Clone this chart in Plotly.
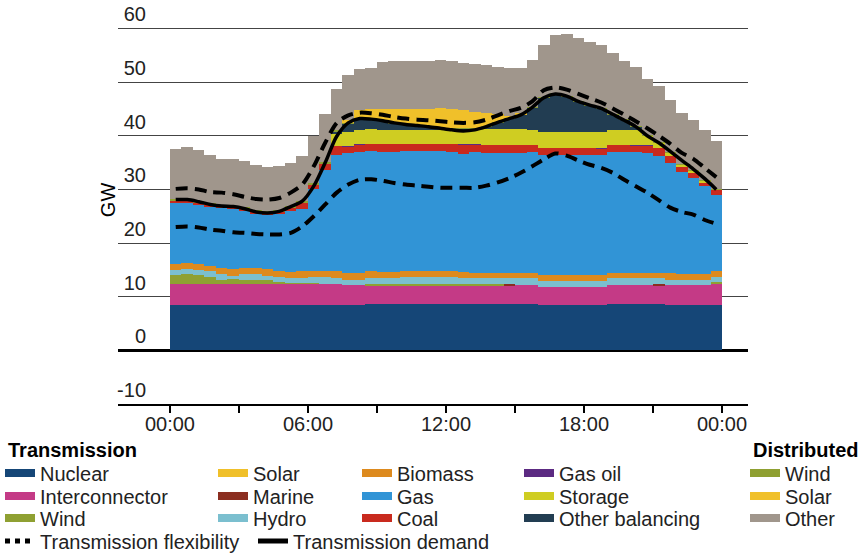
import plotly.graph_objects as go
import pandas as pd

# ---------------- data (GW, 48 half-hour settlement periods) ----------------
period_start = pd.date_range("2024-01-01 00:00", periods=48, freq="30min")
times = [t.strftime("%Y-%m-%d %H:%M") for t in period_start]

nuclear = [8.4, 8.4, 8.4, 8.4, 8.4, 8.4, 8.4, 8.4, 8.4, 8.4, 8.4, 8.4, 8.4, 8.4, 8.4, 8.4, 8.4,
           8.6, 8.6, 8.6, 8.6, 8.6, 8.6, 8.6, 8.6, 8.6, 8.6, 8.6, 8.6, 8.6, 8.6, 8.6,
           8.4, 8.4, 8.4, 8.4, 8.4, 8.4, 8.6, 8.6, 8.6, 8.6, 8.6, 8.4, 8.4, 8.4, 8.4, 8.4]
interconnector = [4.0, 4.0, 4.0, 4.0, 4.0, 4.0, 4.0, 4.0, 4.0, 4.0, 4.0, 4.0, 4.0, 4.0, 4.0, 3.7,
                  3.7, 3.5, 3.5, 3.5, 3.5, 3.5, 3.5, 3.5, 3.5, 3.5, 3.5, 3.5, 3.5, 3.5, 3.5, 3.5,
                  3.5, 3.5, 3.5, 3.5, 3.5, 3.5, 3.5, 3.5, 3.5, 3.5, 3.5, 3.7, 3.7, 3.7, 3.7, 4.1]
wind_t = [1.7, 1.9, 1.7, 1.3, 0.8, 0.9, 0.8, 0.8, 0.8, 0.4, 0.2, 0.2, 0.2, 0.0, 0.0, 0.0,
          0.0, 0.2, 0.35, 0.35, 0.35, 0.35, 0.35, 0.35, 0.35, 0.35, 0.2, 0.2, 0.2, 0.0, 0.0, 0.0,
          0.0, 0.0, 0.0, 0.0, 0.0, 0.0, 0.0, 0.0, 0.0, 0.0, 0.0, 0.0, 0.0, 0.0, 0.0, 0.2]
solar_t = [0.0, 0.0, 0.0, 0.0, 0.0, 0.0, 0.0, 0.0, 0.0, 0.0, 0.0, 0.0, 0.0, 0.0, 0.0, 0.0,
           0.0, 0.0, 0.0, 0.0, 0.0, 0.0, 0.0, 0.0, 0.0, 0.0, 0.0, 0.0, 0.0, 0.0, 0.0, 0.0,
           0.0, 0.0, 0.0, 0.0, 0.0, 0.0, 0.0, 0.0, 0.0, 0.0, 0.0, 0.0, 0.0, 0.0, 0.0, 0.0]
marine = [0.0, 0.0, 0.0, 0.0, 0.0, 0.0, 0.0, 0.0, 0.0, 0.0, 0.0, 0.0, 0.0, 0.0, 0.0, 0.0,
          0.0, 0.0, 0.0, 0.0, 0.0, 0.0, 0.0, 0.0, 0.0, 0.0, 0.0, 0.0, 0.0, 0.2, 0.0, 0.0,
          0.0, 0.0, 0.0, 0.0, 0.0, 0.0, 0.0, 0.0, 0.0, 0.0, 0.2, 0.0, 0.0, 0.0, 0.0, 0.0]
hydro = [0.9, 0.9, 0.9, 1.1, 1.1, 0.6, 1.1, 1.1, 0.75, 0.9, 0.9, 0.9, 1.1, 1.3, 1.1, 1.05,
         1.05, 1.1, 1.1, 1.1, 1.3, 1.3, 1.3, 1.3, 1.3, 1.1, 1.1, 1.1, 1.1, 1.1, 1.3, 1.3,
         1.1, 1.1, 1.1, 1.1, 1.1, 1.1, 1.3, 1.3, 1.3, 1.3, 1.1, 1.1, 1.1, 1.1, 1.1, 0.9]
biomass = [1.05, 1.1, 1.05, 0.9, 1.05, 1.3, 1.05, 1.05, 1.3, 1.1, 1.1, 1.3, 1.1, 1.1, 1.3, 1.3,
           1.3, 1.3, 1.1, 1.1, 1.1, 1.1, 1.1, 1.1, 1.1, 1.1, 1.1, 1.1, 1.1, 1.1, 1.1, 1.1,
           1.1, 1.1, 1.1, 1.1, 1.1, 1.1, 1.1, 1.1, 1.1, 1.1, 1.1, 1.3, 1.1, 1.1, 1.1, 1.1]
gas = [11.4, 11.2, 11.0, 11.0, 11.1, 11.1, 10.6, 10.1, 10.0, 10.6, 11.3, 11.5, 15.2, 18.9, 21.7, 22.3,
       22.6, 22.4, 22.4, 22.4, 22.4, 22.4, 22.4, 22.4, 22.2, 22.0, 22.4, 22.3, 22.3, 22.3, 22.3, 22.4,
       22.4, 22.4, 22.4, 22.4, 22.4, 22.4, 22.4, 22.4, 22.4, 22.3, 21.8, 20.5, 18.9, 17.9, 16.3, 14.3]
coal = [0.5, 0.5, 0.5, 0.5, 0.4, 0.4, 0.4, 0.4, 0.4, 0.5, 0.7, 1.2, 0.9, 1.2, 1.5, 1.2,
        1.4, 1.4, 1.4, 1.4, 1.3, 1.3, 1.3, 1.3, 1.4, 1.7, 1.5, 1.4, 1.4, 1.4, 1.4, 1.3,
        1.2, 1.2, 1.2, 1.2, 1.2, 1.2, 1.3, 1.3, 1.3, 1.3, 1.4, 1.2, 1.0, 1.0, 0.7, 0.9]
gas_oil = [0.0, 0.0, 0.0, 0.0, 0.0, 0.0, 0.0, 0.0, 0.0, 0.0, 0.0, 0.0, 0.0, 0.0, 0.0, 0.1,
           0.1, 0.0, 0.0, 0.0, 0.0, 0.0, 0.0, 0.0, 0.0, 0.1, 0.1, 0.0, 0.0, 0.0, 0.0, 0.0,
           0.0, 0.0, 0.0, 0.0, 0.0, 0.1, 0.0, 0.0, 0.1, 0.1, 0.0, 0.0, 0.0, 0.0, 0.0, 0.0]
storage = [0.0, 0.0, 0.0, 0.0, 0.0, 0.0, 0.0, 0.0, 0.0, 0.0, 0.0, 0.0, 0.0, 0.0, 2.5, 2.7,
           2.6, 2.7, 2.7, 2.7, 2.6, 2.6, 2.6, 2.6, 2.7, 2.7, 2.7, 3.0, 3.0, 3.0, 3.0, 2.8,
           3.0, 3.0, 3.0, 3.0, 3.0, 2.9, 2.8, 2.8, 2.7, 1.8, 1.0, 0.7, 0.4, 0.3, 0.3, 0.1]
other_balancing = [0.0, 0.0, 0.0, 0.0, 0.0, 0.0, 0.0, 0.0, 0.0, 0.0, 0.0, 0.0, 0.0, 0.0, 0.3, 1.6,
                   1.9, 2.0, 1.6, 1.2, 0.9, 0.7, 0.5, 0.2, 0.2, 0.2, 0.2, 0.6, 1.3, 2.0, 2.7, 4.3,
                   6.4, 7.1, 6.7, 5.7, 5.0, 4.4, 3.0, 2.0, 0.7, 0.0, 0.0, 0.0, 0.0, 0.0, 0.0, 0.0]
dist_wind = [0.3, 0.3, 0.3, 0.3, 0.3, 0.3, 0.3, 0.3, 0.3, 0.3, 0.3, 0.3, 0.3, 0.3, 0.3, 0.1,
             0.1, 0.1, 0.1, 0.1, 0.1, 0.1, 0.1, 0.1, 0.1, 0.1, 0.1, 0.1, 0.1, 0.1, 0.1, 0.1,
             0.1, 0.1, 0.1, 0.1, 0.1, 0.1, 0.1, 0.1, 0.1, 0.1, 0.1, 0.1, 0.1, 0.1, 0.1, 0.1]
dist_solar = [0.0, 0.0, 0.0, 0.0, 0.0, 0.0, 0.0, 0.0, 0.0, 0.0, 0.0, 0.0, 0.0, 0.0, 0.0, 0.5,
              1.7, 1.7, 2.2, 2.6, 2.8, 3.0, 3.2, 3.7, 3.5, 3.3, 3.0, 2.4, 1.4, 0.4, 0.2, 0.0,
              0.0, 0.0, 0.0, 0.0, 0.0, 0.0, 0.0, 0.0, 0.0, 0.0, 0.0, 0.0, 0.0, 0.0, 0.0, 0.0]
dist_other = [9.3, 9.6, 9.5, 9.0, 8.6, 8.7, 8.7, 8.4, 8.3, 8.1, 8.1, 8.5, 8.7, 8.8, 7.7, 8.4,
              7.6, 7.6, 8.7, 8.9, 9.0, 9.0, 9.0, 9.0, 9.0, 8.9, 8.9, 8.8, 8.9, 9.0, 8.5, 8.8,
              9.8, 10.9, 11.5, 11.7, 11.7, 11.8, 11.3, 10.9, 11.1, 10.5, 10.4, 9.6, 9.6, 9.4, 9.3, 9.0]

transmission_demand = [28.1, 28.1, 27.7, 27.2, 26.9, 26.8, 26.4, 25.8, 25.6, 25.9, 26.8, 27.8, 30.6, 35.0, 39.9, 42.4,
                       43.2, 43.1, 42.8, 42.4, 42.1, 41.9, 41.7, 41.4, 41.1, 40.9, 41.1, 41.7, 42.5, 43.2, 43.9, 45.3,
                       47.1, 47.8, 47.4, 46.4, 45.7, 45.1, 44.0, 42.9, 41.7, 40.0, 38.7, 37.1, 35.4, 33.8, 32.0, 30.0]
flex_upper = [30.1, 30.2, 30.0, 29.5, 29.4, 29.1, 28.6, 28.2, 28.1, 28.4, 29.4, 30.9, 34.3, 38.7, 42.4, 43.8,
              44.3, 44.2, 43.9, 43.5, 43.2, 43.0, 42.9, 42.7, 42.5, 42.4, 42.5, 43.0, 43.8, 44.6, 45.2, 46.4,
              48.5, 49.0, 48.6, 47.8, 47.0, 46.2, 45.1, 43.9, 42.7, 41.4, 40.0, 38.5, 36.8, 35.7, 34.0, 32.3]
flex_lower = [23.0, 23.1, 22.9, 22.5, 22.3, 22.0, 21.9, 21.7, 21.6, 21.6, 21.9, 23.1, 25.0, 27.2, 29.4, 30.9,
              31.8, 31.9, 31.6, 31.2, 30.9, 30.7, 30.5, 30.3, 30.3, 30.3, 30.3, 30.7, 31.3, 32.1, 33.1, 34.3,
              35.6, 36.7, 36.3, 35.4, 34.6, 34.0, 33.1, 31.8, 30.6, 29.4, 28.0, 26.6, 25.8, 25.3, 24.3, 23.6]

y_ticks = [-10, 0, 10, 20, 30, 40, 50, 60]
x_tick_labels = ["00:00", "", "06:00", "", "12:00", "", "18:00", "", "00:00"]

# (name, values, colour, group)
stack = [
    ("Nuclear", nuclear, "#154677", "T"),
    ("Interconnector", interconnector, "#c43a86", "T"),
    ("Wind", wind_t, "#8fa032", "T"),
    ("Solar", solar_t, "#f0c02a", "T"),
    ("Marine", marine, "#8b2e20", "T"),
    ("Hydro", hydro, "#7bbfcf", "T"),
    ("Biomass", biomass, "#dd8a1e", "T"),
    ("Gas", gas, "#3194d6", "T"),
    ("Coal", coal, "#c92a1e", "T"),
    ("Gas oil", gas_oil, "#5c2a82", "T"),
    ("Storage", storage, "#cfcd22", "T"),
    ("Other balancing", other_balancing, "#223d52", "T"),
    ("Wind", dist_wind, "#8fa032", "D"),
    ("Solar", dist_solar, "#f0c02a", "D"),
    ("Other", dist_other, "#a0968c", "D"),
]

# ---------------- layout helpers ----------------
FONT = "Liberation Sans, Arial, Helvetica, sans-serif"
TXT = "#222222"
W, H = 865, 555
PL, PR, PT, PB = 118, 748, 7, 404


def px_x(px):
    return (px - PL) / (PR - PL)


def px_y(py):
    return (PB - py) / (PB - PT)


PERIOD_MS = 30 * 60 * 1000
fig = go.Figure()

for name, vals, col, grp in stack:
    fig.add_trace(go.Bar(
        x=times, y=vals, name=name, marker=dict(color=col, line=dict(width=0)),
        width=PERIOD_MS, xperiod=PERIOD_MS, xperiodalignment="middle",
        showlegend=False, legendgroup=grp + name,
        hovertemplate=("Transmission " if grp == "T" else "Distributed ") + name + ": %{y} GW<extra></extra>",
    ))

for vals in (flex_upper, flex_lower):
    fig.add_trace(go.Scatter(
        x=times, y=vals, mode="lines", xperiod=PERIOD_MS, xperiodalignment="middle",
        line=dict(color="black", width=4, dash="12px,7px", shape="spline", smoothing=0.8),
        showlegend=False, legendgroup="flex", name="Transmission flexibility",
    ))
fig.add_trace(go.Scatter(
    x=times, y=transmission_demand, mode="lines", xperiod=PERIOD_MS, xperiodalignment="middle",
    line=dict(color="black", width=3.5, shape="spline", smoothing=0.8),
    showlegend=False, legendgroup="demand", name="Transmission demand",
))

# ---------------- legend (one small legend per cell of the grid) ----------------
col_text_x = {1: 40, 2: 253, 3: 397, 4: 559, 5: 785, 6: 293}
row_y = {1: 473, 2: 496, 3: 518, 4: 541}
legend_cells = [
    ("Nuclear", "#154677", "box", 1, 1, "TNuclear"),
    ("Interconnector", "#c43a86", "box", 1, 2, "TInterconnector"),
    ("Wind", "#8fa032", "box", 1, 3, "TWind"),
    ("Solar", "#f0c02a", "box", 2, 1, "TSolar"),
    ("Marine", "#8b2e20", "box", 2, 2, "TMarine"),
    ("Hydro", "#7bbfcf", "box", 2, 3, "THydro"),
    ("Biomass", "#dd8a1e", "box", 3, 1, "TBiomass"),
    ("Gas", "#3194d6", "box", 3, 2, "TGas"),
    ("Coal", "#c92a1e", "box", 3, 3, "TCoal"),
    ("Gas oil", "#5c2a82", "box", 4, 1, "TGas oil"),
    ("Storage", "#cfcd22", "box", 4, 2, "TStorage"),
    ("Other balancing", "#223d52", "box", 4, 3, "TOther balancing"),
    ("Wind", "#8fa032", "box", 5, 1, "DWind"),
    ("Solar", "#f0c02a", "box", 5, 2, "DSolar"),
    ("Other", "#a0968c", "box", 5, 3, "DOther"),
    ("Transmission flexibility", "black", "dot", 1, 4, "flex"),
    ("Transmission demand", "black", "solid", 6, 4, "demand"),
]

legend_layouts = {}
for k, (name, col, kind, c, r, grp) in enumerate(legend_cells):
    lid = "legend" if k == 0 else f"legend{k + 1}"
    if kind == "box":
        line = dict(color=col, width=8)
    elif kind == "dot":
        line = dict(color=col, width=5, dash="dot")
    else:
        line = dict(color=col, width=5)
    fig.add_trace(go.Scatter(
        x=[None], y=[None], mode="lines", line=line, name=name,
        legend=lid, legendgroup=grp, showlegend=True, hoverinfo="skip",
    ))
    legend_layouts[lid] = dict(
        x=px_x(col_text_x[c] - 40), y=px_y(row_y[r]), xanchor="left", yanchor="middle",
        bgcolor="rgba(0,0,0,0)", borderwidth=0, itemwidth=30, tracegroupgap=0,
        font=dict(family=FONT, size=20, color=TXT),
    )

x0 = period_start[0]
fig.update_layout(
    width=W, height=H,
    margin=dict(l=PL, r=W - PR, t=PT, b=H - PB, pad=0, autoexpand=False),
    paper_bgcolor="white", plot_bgcolor="white",
    barmode="stack", bargap=0,
    font=dict(family=FONT, size=20, color=TXT),
    xaxis=dict(
        type="date",
        range=[x0 - pd.Timedelta(hours=2.26), x0 + pd.Timedelta(hours=25.13)],
        tickvals=[x0 + pd.Timedelta(hours=3 * i) for i in range(len(x_tick_labels))],
        ticktext=x_tick_labels,
        ticks="outside", ticklen=7, tickwidth=2, tickcolor="black",
        ticklabelstandoff=-6,
        showline=True, linecolor="black", linewidth=2,
        showgrid=False, zeroline=False,
        tickfont=dict(family=FONT, size=20, color=TXT),
    ),
    yaxis=dict(
        range=[-10, 64], tickvals=y_ticks, ticktext=[str(v) for v in y_ticks],
        anchor="free", position=px_x(146), ticks="", showline=False,
        ticklabelposition="outside top", ticklabelstandoff=0,
        showgrid=True, gridcolor="#444444", gridwidth=1,
        zeroline=True, zerolinecolor="black", zerolinewidth=3,
        tickfont=dict(family=FONT, size=20, color=TXT),
    ),
    annotations=[
        dict(text="GW", xref="paper", yref="y", x=px_x(108), y=28, textangle=-90,
             showarrow=False, xanchor="center", yanchor="middle",
             font=dict(family=FONT, size=20, color="black")),
        dict(text="<b>Transmission</b>", xref="paper", yref="paper", x=px_x(6), y=px_y(450),
             showarrow=False, xanchor="left", yanchor="middle",
             font=dict(family=FONT, size=20, color="black")),
        dict(text="<b>Distributed</b>", xref="paper", yref="paper", x=px_x(751), y=px_y(450),
             showarrow=False, xanchor="left", yanchor="middle",
             font=dict(family=FONT, size=20, color="black")),
    ],
    **legend_layouts,
)

fig.write_html(
    "out.html",
    config={"displayModeBar": False},
    post_script="document.body.style.margin='0';document.body.style.padding='0';",
)
